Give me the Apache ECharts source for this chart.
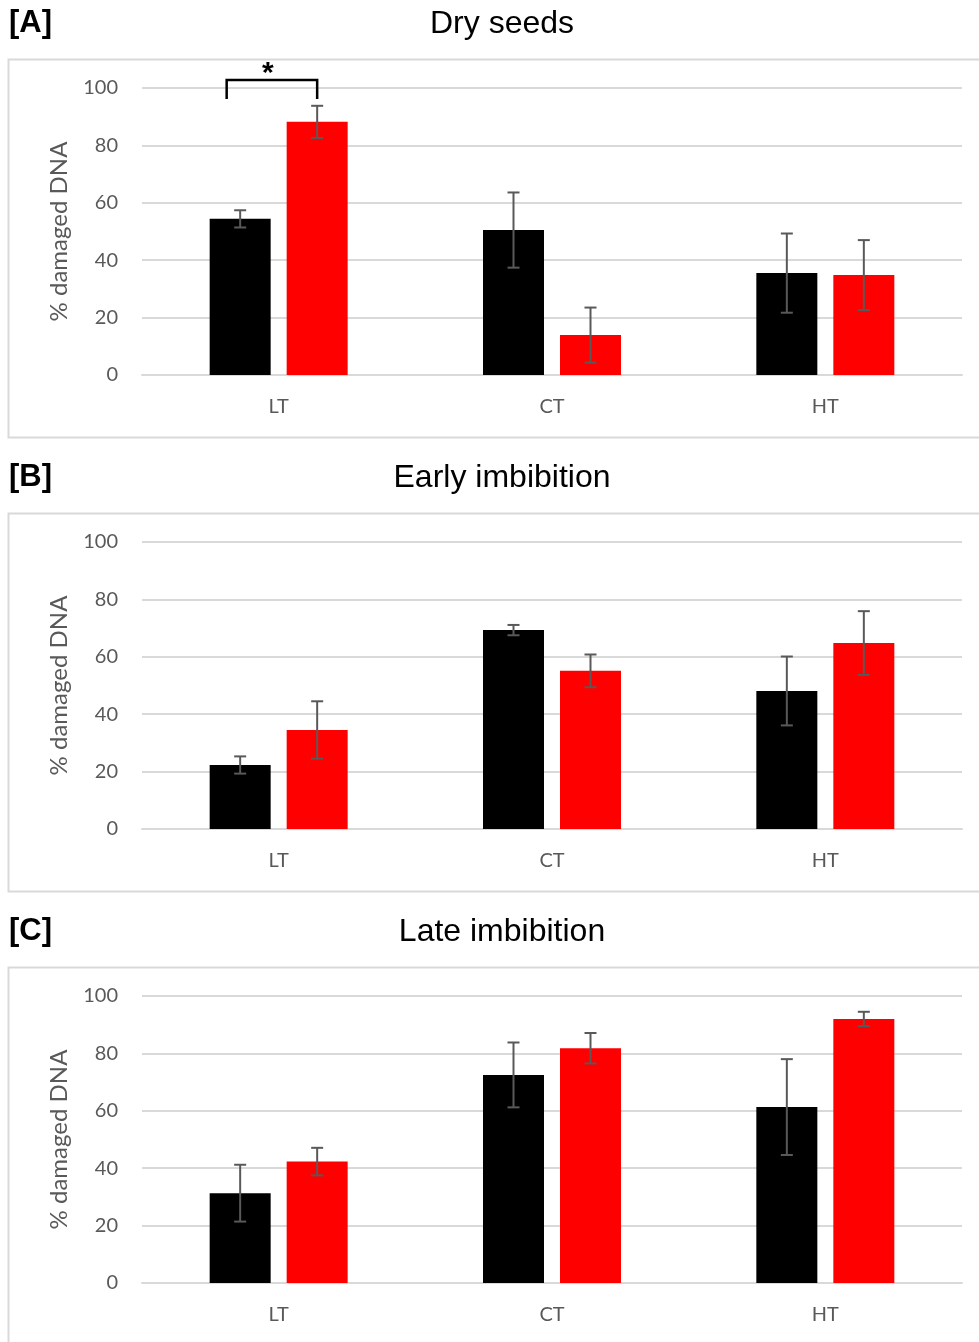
<!DOCTYPE html>
<html>
<head>
<meta charset="utf-8">
<script src="https://cdn.jsdelivr.net/npm/echarts@6/dist/echarts.min.js"></script>
<style>
  html, body { margin: 0; padding: 0; background: #fff; }
  #chart { width: 979px; height: 1342px; }
</style>
</head>
<body>
<div id="chart"></div>
<script>
// Treatments on the x axis
const categories = ['LT', 'CT', 'HT'];

// % damaged DNA, mean and error (black = first group, red = second group)
const dryBlack = [54.4, 50.5, 35.5];
const dryBlackErr = [3.0, 13.1, 13.8];
const dryRed = [88.2, 13.9, 34.8];
const dryRedErr = [5.6, 9.6, 12.2];

const earlyBlack = [22.3, 69.3, 48.1];
const earlyBlackErr = [3.0, 1.8, 12.0];
const earlyRed = [34.5, 55.1, 64.8];
const earlyRedErr = [10.0, 5.7, 11.1];

const lateBlack = [31.3, 72.5, 61.3];
const lateBlackErr = [9.9, 11.3, 16.7];
const lateRed = [42.3, 81.8, 92.0];
const lateRedErr = [4.8, 5.3, 2.5];

// Panel headings
const panelLetters = ['[A]', '[B]', '[C]'];
const panelTitles = ['Dry seeds', 'Early imbibition', 'Late imbibition'];
const yAxisTitle = '% damaged DNA';

// Significance bracket on panel A (LT): leg bottom, bracket top, star position
const sigCategory = 0;
const sigLegLow = 96.2;
const sigTop = 102.8;
const sigStarValue = 104.8;

const panels = [
  { black: dryBlack, blackErr: dryBlackErr, red: dryRed, redErr: dryRedErr },
  { black: earlyBlack, blackErr: earlyBlackErr, red: earlyRed, redErr: earlyRedErr },
  { black: lateBlack, blackErr: lateBlackErr, red: lateRed, redErr: lateRedErr }
];

const BAR_WIDTH = 61;
const BAR_GAP = 16;
const BAR_OFFSET = (BAR_WIDTH + BAR_GAP) / 2;
const PANEL_STEP = 454;
const GRID_TOP = 88;
const GRID_H = 287;
const GRAY = '#595959';
const LINE = '#d9d9d9';
const FONT = 'Lato, "Liberation Sans", sans-serif';
const HEAD_FONT = '"Liberation Sans", Arial, sans-serif';

const chart = echarts.init(document.getElementById('chart'), null, { renderer: 'canvas' });

const grids = [], xAxes = [], yAxes = [], series = [], titles = [], graphics = [];

function errorSeries(idx, means, errs, side) {
  return {
    type: 'custom',
    xAxisIndex: idx,
    yAxisIndex: idx,
    z: 10,
    silent: true,
    data: categories.map((c, i) => [i, means[i] - errs[i], means[i] + errs[i]]),
    renderItem: function (params, api) {
      const lo = api.coord([api.value(0), api.value(1)]);
      const hi = api.coord([api.value(0), api.value(2)]);
      const cx = lo[0] + side * BAR_OFFSET;
      const style = { stroke: GRAY, lineWidth: 2 };
      const cap = 6;
      return {
        type: 'group',
        children: [
          { type: 'line', shape: { x1: cx, y1: lo[1], x2: cx, y2: hi[1] }, style: style },
          { type: 'line', shape: { x1: cx - cap, y1: lo[1], x2: cx + cap, y2: lo[1] }, style: style },
          { type: 'line', shape: { x1: cx - cap, y1: hi[1], x2: cx + cap, y2: hi[1] }, style: style }
        ]
      };
    }
  };
}

panels.forEach((p, idx) => {
  const top = GRID_TOP + idx * PANEL_STEP;
  grids.push({ left: 142, right: 17, top: top, height: GRID_H });

  xAxes.push({
    type: 'category',
    gridIndex: idx,
    data: categories,
    axisLine: { show: true, lineStyle: { color: LINE, width: 2 } },
    axisTick: { show: false },
    axisLabel: { color: GRAY, fontSize: 20, fontFamily: FONT, margin: 22 }
  });

  yAxes.push({
    type: 'value',
    gridIndex: idx,
    min: 0,
    max: 100,
    interval: 20,
    axisLine: { show: false },
    axisTick: { show: false },
    splitLine: { show: true, lineStyle: { color: LINE, width: 2 } },
    axisLabel: { color: GRAY, fontSize: 20, fontFamily: FONT, margin: 24 },
    name: yAxisTitle,
    nameLocation: 'middle',
    nameGap: 71,
    nameTextStyle: { color: GRAY, fontSize: 24, fontFamily: FONT }
  });

  series.push({
    type: 'bar',
    xAxisIndex: idx,
    yAxisIndex: idx,
    data: p.black,
    barWidth: BAR_WIDTH,
    barGap: (BAR_GAP / BAR_WIDTH * 100) + '%',
    itemStyle: { color: '#000000' },
    silent: true
  });
  series.push({
    type: 'bar',
    xAxisIndex: idx,
    yAxisIndex: idx,
    data: p.red,
    barWidth: BAR_WIDTH,
    barGap: (BAR_GAP / BAR_WIDTH * 100) + '%',
    itemStyle: { color: '#ff0000' },
    silent: true
  });
  series.push(errorSeries(idx, p.black, p.blackErr, -1));
  series.push(errorSeries(idx, p.red, p.redErr, 1));

  titles.push({
    text: panelLetters[idx],
    left: 9,
    top: 8 + idx * PANEL_STEP,
    padding: 0,
    textStyle: { fontSize: 31, fontWeight: 'bold', color: '#000', fontFamily: HEAD_FONT }
  });
  titles.push({
    text: panelTitles[idx],
    left: 502,
    textAlign: 'center',
    top: 8 + idx * PANEL_STEP,
    padding: 0,
    textStyle: { fontSize: 32, fontWeight: 'normal', color: '#000', fontFamily: HEAD_FONT }
  });

  // frame around each panel
  graphics.push({
    type: 'rect',
    shape: { x: 8.5, y: 59.5 + idx * PANEL_STEP, width: 1000, height: 378 },
    style: { fill: 'none', stroke: LINE, lineWidth: 2 },
    z: -10,
    silent: true
  });
});

// Significance bracket with star over LT in panel A
series.push({
  type: 'custom',
  xAxisIndex: 0,
  yAxisIndex: 0,
  z: 11,
  clip: false,
  silent: true,
  data: [[sigCategory, sigLegLow, sigTop, sigStarValue]],
  renderItem: function (params, api) {
    const c = api.value(0);
    const low = api.coord([c, api.value(1)]);
    const top = api.coord([c, api.value(2)]);
    const star = api.coord([c, api.value(3)]);
    const xl = low[0] - BAR_OFFSET - 13.5;
    const xr = low[0] + BAR_OFFSET;
    return {
      type: 'group',
      children: [
        {
          type: 'polyline',
          shape: { points: [[xl, low[1]], [xl, top[1]], [xr, top[1]], [xr, low[1]]] },
          style: { stroke: '#000', lineWidth: 2.5, fill: 'none' }
        },
        {
          type: 'text',
          style: {
            x: (xl + xr) / 2 - 4, y: star[1], text: '*',
            fill: '#000', fontSize: 30, fontWeight: 'bold', fontFamily: HEAD_FONT,
            align: 'center', verticalAlign: 'middle'
          }
        }
      ]
    };
  }
});

chart.setOption({
  animation: false,
  backgroundColor: '#ffffff',
  title: titles,
  grid: grids,
  xAxis: xAxes,
  yAxis: yAxes,
  series: series,
  graphic: graphics
});
</script>
</body>
</html>
